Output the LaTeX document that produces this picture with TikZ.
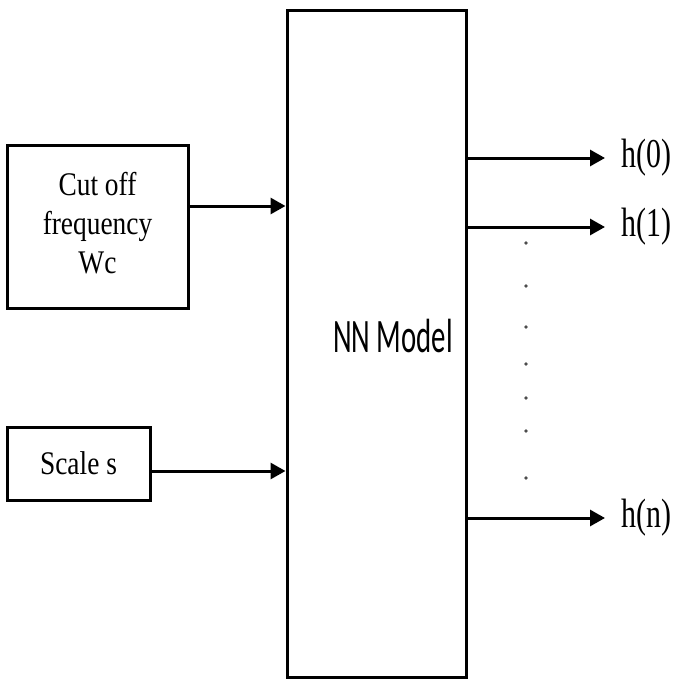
\documentclass[tikz,border=0pt]{standalone}
\usepackage{fontspec}
\setmainfont{Liberation Serif}
\newfontfamily\modelfont{Carlito}
\usetikzlibrary{arrows.meta}
\newcommand{\squeeze}[2]{\scalebox{#1}[1]{#2}}
\tikzset{
  block/.style={draw, line width=3pt, rectangle, inner sep=0pt},
  arr/.style={line width=3pt, -{Triangle[length=15pt,width=16pt]}},
  inlabel/.style={font=\fontsize{33}{39}\selectfont},
  outlabel/.style={font=\fontsize{41}{45}\selectfont, anchor=west, inner sep=0pt}
}
\begin{document}
\begin{tikzpicture}[x=1pt, y=-1pt]
  \useasboundingbox (0,0) rectangle (673,680);
  % main model box
  \node[block, minimum width=179pt, minimum height=667pt] (model) at (376.5,343.5) {};
  \node[font=\modelfont\fontsize{48}{50}\selectfont] (mname) at (393,336) {\squeeze{0.6}{NN Model}};

  % inputs
  \node[block, inlabel, minimum width=181pt, minimum height=163pt] (cutoff) at (97.5,226.5)
    {\squeeze{0.83}{\begin{tabular}{@{}c@{}}Cut off\\frequency\\Wc\end{tabular}}};
  \node[block, inlabel, minimum width=143pt, minimum height=73pt] (scale) at (78.5,463.5)
    {\squeeze{0.83}{Scale s}};
  \coordinate (in1) at ([yshift=20.5pt]cutoff.east);
  \coordinate (in2) at ([yshift=-7.5pt]scale.east);
  \draw[arr] (in1) -- (in1 -| model.west);
  \draw[arr] (in2) -- (in2 -| model.west);

  % outputs
  \node[outlabel] (h0) at (621,158) {\squeeze{0.73}{h(0)}};
  \node[outlabel] (h1) at (621,227) {\squeeze{0.73}{h(1)}};
  \node[outlabel] (hn) at (621,518) {\squeeze{0.73}{h(n)}};
  \foreach \h in {h0,h1,hn}
    \draw[arr] (model.east |- \h.west) -- ([xshift=-16pt]\h.west);

  % vertical dots
  \foreach \y in {243,286,327,364,398,431,478}
    \fill[black!70] (526,\y) circle[radius=1.8pt];
\end{tikzpicture}
\end{document}
